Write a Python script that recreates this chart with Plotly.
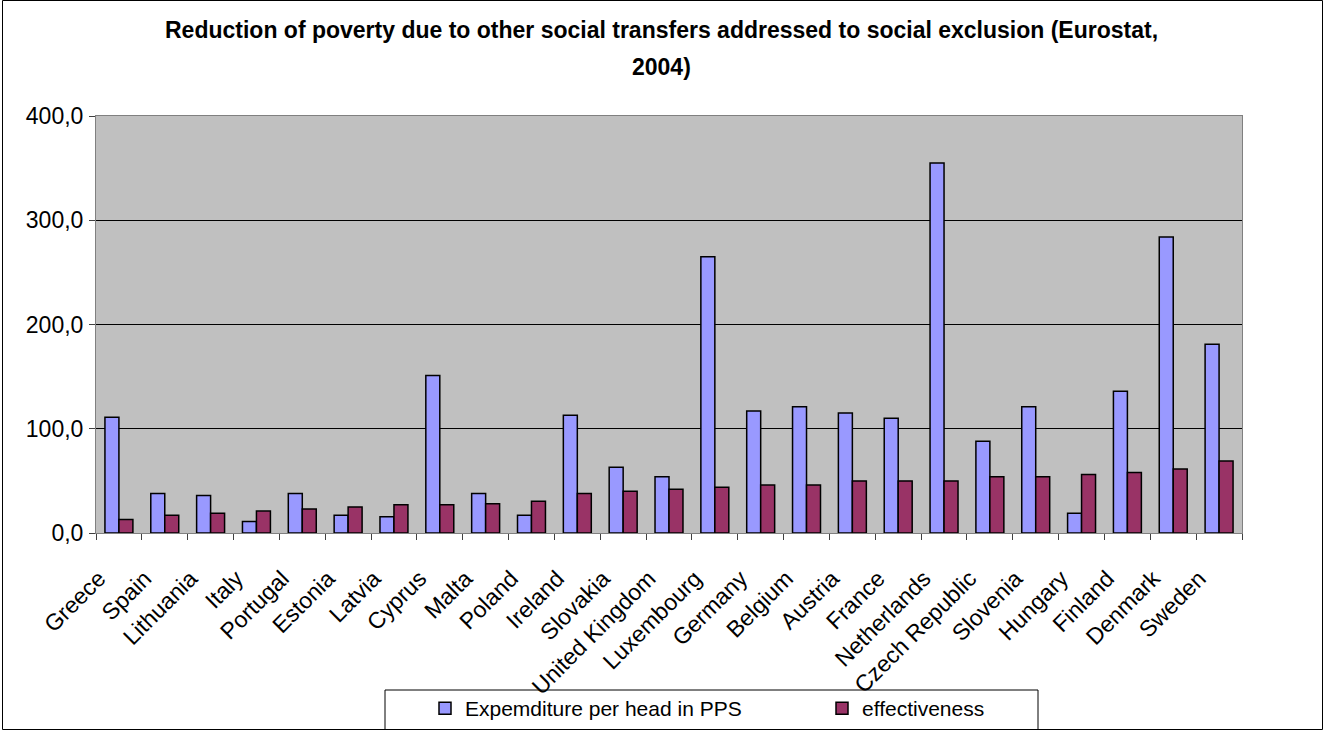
import plotly.graph_objects as go

countries = ["Greece", "Spain", "Lithuania", "Italy", "Portugal", "Estonia", "Latvia",
             "Cyprus", "Malta", "Poland", "Ireland", "Slovakia", "United Kingdom",
             "Luxembourg", "Germany", "Belgium", "Austria", "France", "Netherlands",
             "Czech Republic", "Slovenia", "Hungary", "Finland", "Denmark", "Sweden"]
expenditure = [111, 38, 36, 11, 38, 17, 15.5, 151, 38, 17, 113, 63, 54, 265, 117,
               121, 115, 110, 355, 88, 121, 19, 136, 284, 181]
effectiveness = [13, 17, 19, 21, 23, 25, 27, 27, 28, 30.5, 38, 40, 42, 44, 46, 46,
                 50, 50, 50, 54, 54, 56, 58, 61.5, 69]
y_ticks = [0, 100, 200, 300, 400]

W, H = 1325, 731
L, R, T, B = 96, 83, 116, 198
PW, PH = W - L - R, H - T - B

def px(x):
    return (x - L) / PW

def py(y):
    return (H - B - y) / PH

def cx(x):
    return x / W

def cy(y):
    return 1 - y / H

FONT = "Liberation Sans, Arial, sans-serif"

fig = go.Figure()
fig.add_trace(go.Bar(x=countries, y=expenditure, name="Expemditure per head in PPS",
                     marker=dict(color="#9999FF", line=dict(color="black", width=1.5))))
fig.add_trace(go.Bar(x=countries, y=effectiveness, name="effectiveness",
                     marker=dict(color="#993366", line=dict(color="black", width=1.5))))

fig.update_layout(
    width=W, height=H,
    margin=dict(l=L, r=R, t=T, b=B),
    paper_bgcolor="white", plot_bgcolor="#C0C0C0",
    barmode="group", bargap=0.39, bargroupgap=0,
    separators=",.",
    font=dict(family=FONT, color="black", size=21),
    showlegend=True,
    legend=dict(orientation="h", xref="container", yref="container",
                x=cx(425), y=cy(688), xanchor="left", yanchor="top",
                bgcolor="rgba(0,0,0,0)", borderwidth=0,
                font=dict(family=FONT, size=21, color="black"),
                entrywidth=352, entrywidthmode="pixels", itemwidth=30),
    xaxis=dict(showline=True, linecolor="#808080", linewidth=1, mirror=True,
               ticks="outside", tickson="boundaries", ticklen=6, tickcolor="#404040",
               tickangle=-45, tickfont=dict(family=FONT, size=23, color="black"),
               ticklabelstandoff=22, ticklabelshift=-20,
               showgrid=False, automargin=False),
    yaxis=dict(range=[0, 400], tickvals=y_ticks, tickformat=".1f",
               showline=True, linecolor="#808080", linewidth=1, mirror=True,
               ticks="outside", ticklen=6, tickcolor="#404040",
               showgrid=True, gridcolor="black", gridwidth=1, zeroline=False,
               ticklabelstandoff=1,
               tickfont=dict(family=FONT, size=23, color="black"), automargin=False),
    annotations=[
        dict(text="<b>Reduction of poverty due to other social transfers addressed to social exclusion (Eurostat,</b>",
             xref="paper", yref="paper", x=px(661), y=py(30), showarrow=False,
             xanchor="center", yanchor="middle", font=dict(family=FONT, size=23, color="black")),
        dict(text="<b>2004)</b>",
             xref="paper", yref="paper", x=px(661), y=py(67), showarrow=False,
             xanchor="center", yanchor="middle", font=dict(family=FONT, size=23, color="black")),
    ],
    shapes=[
        dict(type="rect", xref="paper", yref="paper", x0=px(385), x1=px(1038),
             y0=py(729.5), y1=py(690), line=dict(color="black", width=1), fillcolor="white",
             layer="below"),
        dict(type="rect", xref="paper", yref="paper", x0=px(2.5), x1=px(1322.5),
             y0=py(729.5), y1=py(0.5), line=dict(color="black", width=1),
             fillcolor="rgba(0,0,0,0)", layer="above"),
    ],
)

fig.write_html("out.html")
